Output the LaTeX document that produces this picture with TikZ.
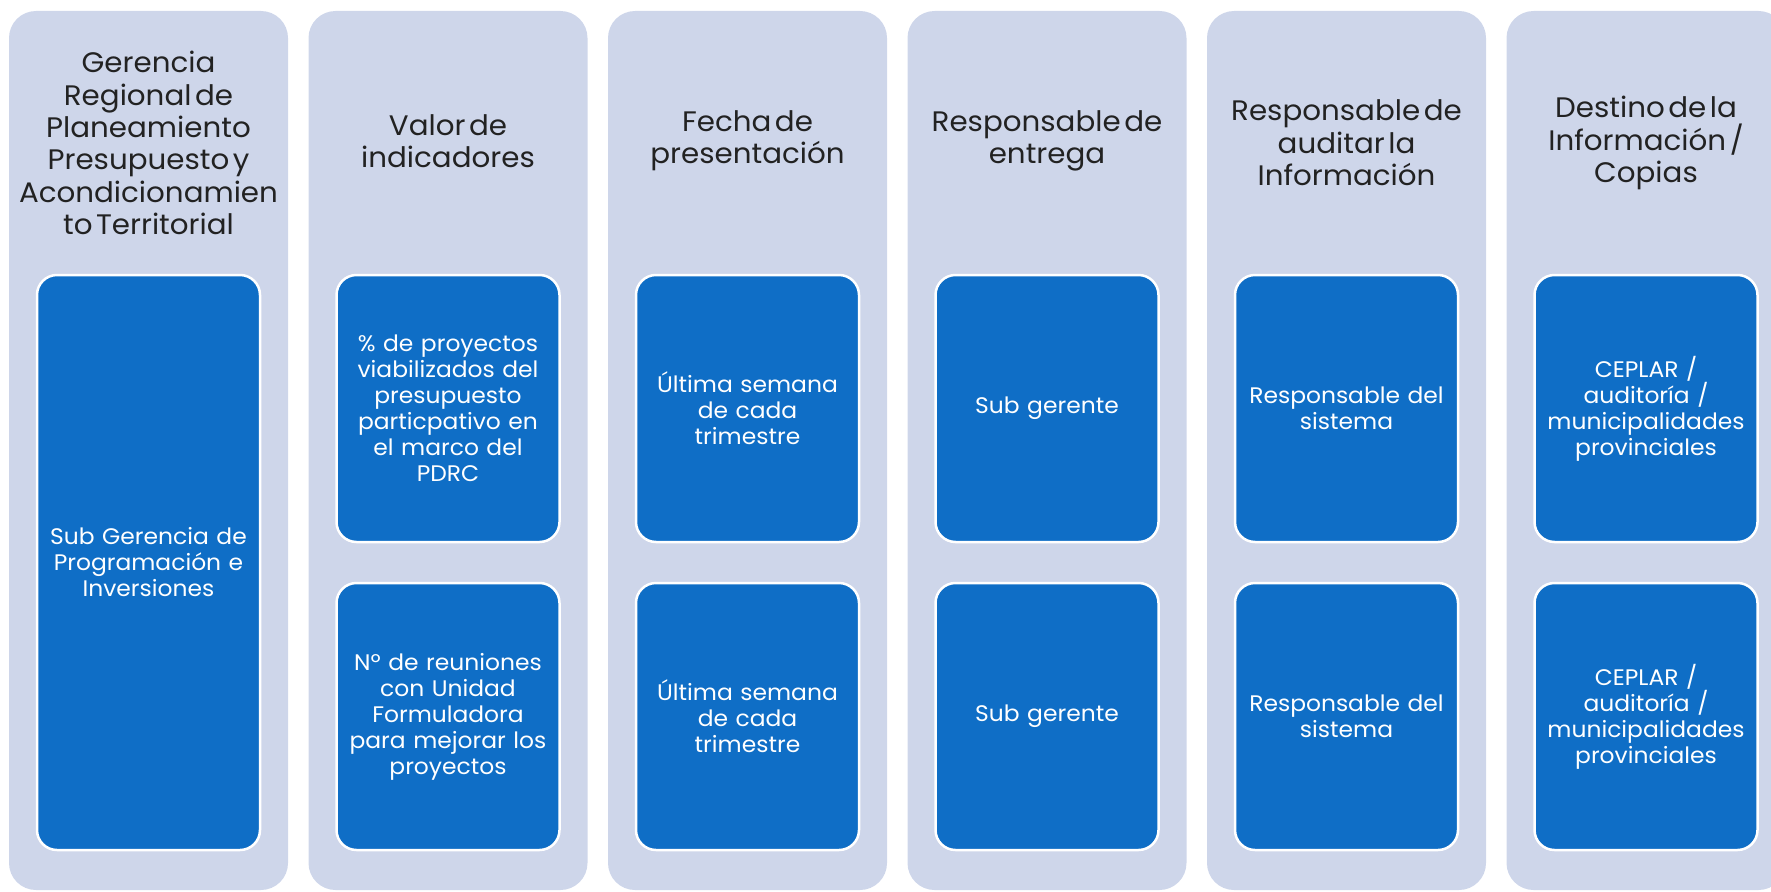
\documentclass[tikz,border=0pt]{standalone}
\usepackage{fontspec}
\setmainfont{Poppins}[WordSpace=0.45, FakeStretch=1.04]
\definecolor{outerbg}{HTML}{CED6EA}
\definecolor{innerbg}{HTML}{0F6EC6}
\definecolor{headtxt}{HTML}{222222}
\tikzset{
  colbox/.style={fill=outerbg, draw=none, rounded corners=27pt, minimum width=279pt, minimum height=879pt, inner sep=0pt},
  headtext/.style={text=headtxt, align=center, font=\fontsize{28.2}{32.4}\selectfont, inner sep=0pt},
  cellbox/.style={fill=innerbg, draw=white, line width=2.5pt, rounded corners=20pt, minimum width=223pt, inner sep=0pt, text=white, align=center, text width=215pt, font=\fontsize{22.5}{26}\selectfont},
  tallcell/.style={cellbox, minimum height=575pt},
  halfcell/.style={cellbox, minimum height=267pt}
}
\begin{document}
\begin{tikzpicture}[x=1pt, y=-1pt]
\useasboundingbox (0,0) rectangle (1771,891);
\clip (0,0) rectangle (1771,891);
% outer columns
\node[colbox] (c1) at (148.5,450.5) {};
\node[colbox] (c2) at (448,450.5) {};
\node[colbox] (c3) at (747.5,450.5) {};
\node[colbox] (c4) at (1047,450.5) {};
\node[colbox] (c5) at (1346.5,450.5) {};
\node[colbox] (c6) at (1646,450.5) {};
% headers
\node[headtext] (h1) at (148.5,143) {Gerencia\\Regional de\\Planeamiento\\Presupuesto y\\Acondicionamien\\to Territorial};
\node[headtext] (h2) at (448,141) {Valor de\\indicadores};
\node[headtext] (h3) at (747.5,141) {Fecha de\\presentación};
\node[headtext] (h4) at (1047,141) {Responsable de\\entrega};
\node[headtext] (h5) at (1346.5,143) {Responsable de\\auditar la\\Información};
\node[headtext] (h6) at (1646,143) {Destino de la\\Información /\\Copias};
% inner cells
\node[tallcell] (b1) at (148.5,562.5) {Sub Gerencia de\\Programación e\\Inversiones};
\node[halfcell] (b2a) at (448,408.5) {\% de proyectos\\viabilizados del\\presupuesto\\particpativo en\\el marco del\\PDRC};
\node[halfcell] (b2b) at (448,716.5) {Nº de reuniones\\con Unidad\\Formuladora\\para mejorar los\\proyectos};
\node[halfcell] (b3a) at (747.5,408.5) {Última semana\\de cada\\trimestre};
\node[halfcell] (b3b) at (747.5,716.5) {Última semana\\de cada\\trimestre};
\node[halfcell] (b4a) at (1047,408.5) {Sub gerente};
\node[halfcell] (b4b) at (1047,716.5) {Sub gerente};
\node[halfcell] (b5a) at (1346.5,408.5) {Responsable del\\sistema};
\node[halfcell] (b5b) at (1346.5,716.5) {Responsable del\\sistema};
\node[halfcell] (b6a) at (1646,408.5) {CEPLAR /\\auditoría /\\municipalidades\\provinciales};
\node[halfcell] (b6b) at (1646,716.5) {CEPLAR /\\auditoría /\\municipalidades\\provinciales};
\end{tikzpicture}
\end{document}
